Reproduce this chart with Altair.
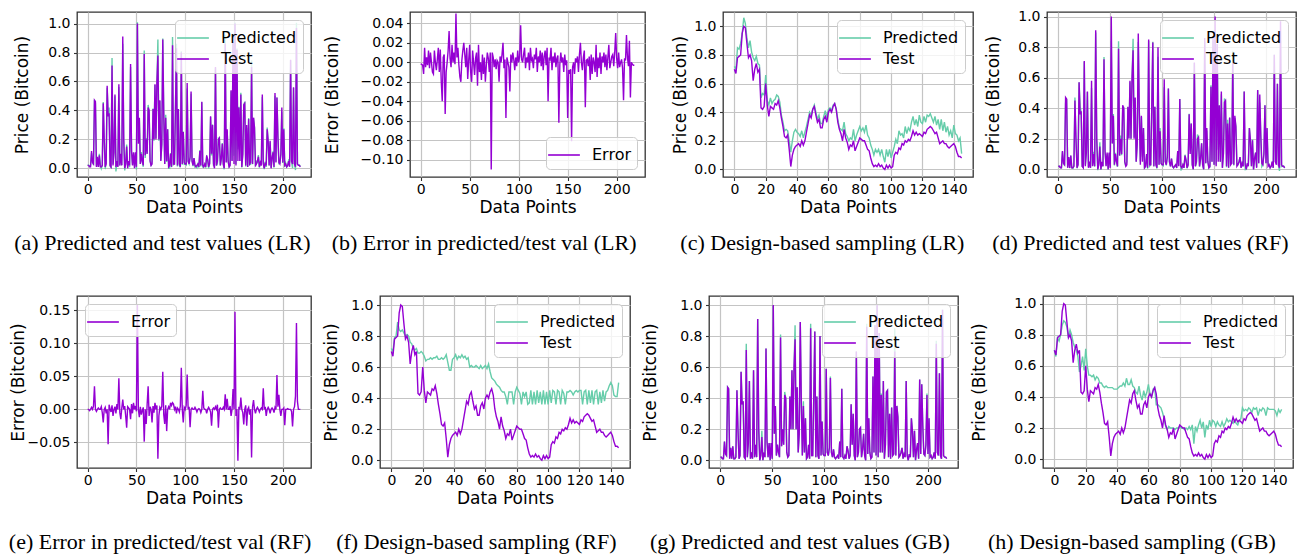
import altair as alt
import pandas as pd

# ---------------- data ----------------
# shuffled test set (219 points) used in panels (a), (d), (g)
TEST_SHUF = [
    0.02, 0.02, 0.01, 0.01, 0.12, 0.04, 0.03, 0.47, 0.46, 0.01,
    0.08, 0.01, 0.09, 0.01, 0.01, 0.02, 0.45, 0.20, 0.01, 0.03,
    0.57, 0.36, 0.38, 0.02, 0.01, 0.71, 0.02, 0.11, 0.51, 0.01,
    0.05, 0.01, 0.58, 0.02, 0.10, 0.02, 0.91, 0.20, 0.00, 0.03,
    0.15, 0.00, 0.05, 0.02, 0.72, 0.12, 0.02, 0.11, 0.00, 0.11,
    0.01, 1.00, 0.17, 0.35, 0.03, 0.10, 0.05, 0.02, 0.79, 0.09,
    0.20, 0.10, 0.42, 0.40, 0.05, 0.02, 0.03, 0.41, 0.20, 0.58,
    0.20, 0.60, 0.78, 0.20, 0.47, 0.05, 0.17, 0.89, 0.38, 0.03,
    0.35, 0.05, 0.27, 0.01, 0.02, 0.10, 0.01, 0.85, 0.03, 0.03,
    0.41, 0.83, 0.02, 0.41, 0.03, 0.01, 0.80, 0.03, 0.25, 0.04,
    0.03, 0.03, 0.59, 0.05, 0.03, 0.08, 0.53, 0.05, 0.02, 0.07,
    0.02, 0.01, 0.02, 0.03, 0.01, 0.12, 0.02, 0.46, 0.02, 0.01,
    0.03, 0.01, 0.09, 0.06, 0.01, 0.03, 0.36, 0.10, 0.30, 0.03,
    0.00, 0.70, 0.02, 0.05, 0.20, 0.21, 0.02, 0.07, 0.17, 0.03,
    0.00, 0.86, 0.04, 0.27, 0.05, 0.01, 0.02, 0.54, 0.05, 0.87,
    0.03, 1.00, 0.02, 0.82, 0.05, 0.42, 0.05, 0.51, 0.01, 0.10,
    0.44, 0.45, 0.02, 0.30, 0.01, 0.34, 0.03, 0.04, 0.70, 0.03,
    0.35, 0.28, 0.02, 0.03, 0.05, 0.08, 0.01, 0.04, 0.02, 0.51,
    0.03, 0.00, 0.04, 0.02, 0.27, 0.19, 0.02, 0.19, 0.00, 0.07,
    0.11, 0.01, 0.52, 0.04, 0.49, 0.22, 0.04, 0.03, 0.10, 0.42,
    0.04, 0.27, 0.02, 0.03, 0.01, 0.02, 0.05, 0.01, 0.75, 0.05,
    0.03, 0.56, 0.03, 0.01, 0.97, 0.03, 0.02, 0.02, 0.01,
]

# error (test - predicted), linear regression, panel (b)
ERR_LR = [
    -0.002, -0.002, -0.003, -0.012, 0.015, -0.005, 0.005, -0.003, 0.012, -0.006,
    0.010, 0.000, -0.010, -0.012, 0.012, 0.000, -0.008, 0.003, 0.015, -0.010,
    0.013, -0.020, -0.040, 0.005, 0.008, -0.053, -0.010, 0.000, 0.012, 0.032,
    0.004, -0.005, 0.018, 0.000, 0.010, -0.002, 0.050, 0.005, 0.015, -0.003,
    -0.015, -0.020, 0.002, 0.012, 0.020, 0.008, -0.005, 0.015, -0.017, 0.002,
    0.018, -0.010, -0.020, 0.012, 0.000, -0.013, 0.004, 0.010, -0.024, 0.018,
    -0.010, 0.000, -0.018, 0.008, -0.012, 0.005, -0.020, -0.003, 0.010, 0.004,
    -0.010, 0.010, -0.110, 0.010, 0.005, -0.005, 0.003, -0.007, 0.002, 0.000,
    -0.020, 0.006, 0.000, 0.008, 0.020, -0.006, 0.003, -0.057, 0.005, 0.000,
    -0.005, -0.030, 0.008, 0.000, 0.010, 0.003, -0.008, 0.005, -0.004, 0.012,
    0.000, 0.006, 0.038, 0.003, 0.000, 0.008, 0.015, -0.006, 0.005, 0.000,
    0.010, -0.008, 0.015, 0.002, 0.004, -0.006, 0.008, 0.003, 0.015, -0.010,
    0.006, 0.000, 0.012, -0.004, 0.010, -0.008, 0.006, 0.012, -0.003, 0.015,
    -0.040, 0.005, 0.003, 0.015, -0.008, 0.006, 0.000, 0.010, -0.005, 0.004,
    0.007, -0.062, -0.002, 0.010, 0.000, 0.005, -0.010, 0.008, -0.003, 0.002,
    -0.057, -0.008, -0.010, -0.007, -0.081, -0.005, 0.000, -0.012, 0.004, 0.000,
    0.006, -0.010, 0.008, 0.020, 0.000, -0.008, 0.005, 0.012, -0.046, 0.002,
    0.003, -0.004, 0.006, -0.018, 0.008, -0.012, 0.005, 0.000, -0.010, 0.018,
    -0.015, 0.005, -0.006, 0.010, -0.012, 0.006, 0.000, 0.010, -0.005, 0.008,
    -0.008, 0.005, 0.018, -0.006, 0.000, 0.006, 0.008, -0.004, 0.010, 0.030,
    0.004, -0.006, 0.010, -0.005, 0.000, 0.003, -0.006, -0.039, 0.004, 0.002,
    0.028, 0.005, -0.004, 0.022, -0.036, 0.000, -0.002, -0.003, -0.003,
]

# error (test - predicted), random forest, panel (e)
ERR_RF = [
    0.000, 0.000, -0.002, 0.000, 0.003, 0.000, 0.005, 0.035, 0.000, -0.003,
    0.000, 0.002, 0.000, 0.000, 0.004, -0.005, -0.020, 0.000, 0.003, -0.006,
    0.000, -0.053, 0.007, 0.000, -0.004, 0.006, -0.010, 0.000, 0.004, -0.006,
    0.008, 0.000, 0.047, -0.005, -0.015, 0.002, 0.015, 0.000, 0.005, -0.010,
    -0.028, 0.004, 0.002, 0.000, -0.015, 0.008, -0.006, 0.010, 0.000, 0.005,
    -0.003, 0.160, 0.000, -0.012, 0.004, -0.008, -0.002, 0.003, -0.049, 0.000,
    -0.022, 0.008, 0.035, -0.010, 0.004, 0.000, -0.020, 0.005, -0.005, 0.010,
    0.000, 0.006, -0.075, -0.010, 0.003, 0.000, 0.005, 0.057, -0.008, -0.022,
    0.006, -0.033, 0.000, 0.004, 0.000, 0.010, 0.006, 0.010, 0.008, 0.000,
    0.004, -0.006, 0.002, 0.000, -0.004, 0.005, 0.063, 0.000, -0.020, 0.003,
    0.000, 0.006, 0.053, 0.000, 0.004, -0.027, 0.000, 0.002, 0.000, 0.000,
    0.003, 0.000, -0.004, 0.000, 0.001, 0.000, -0.005, 0.000, 0.028, 0.002,
    0.000, 0.000, -0.006, 0.000, 0.003, 0.000, -0.004, -0.025, 0.000, 0.002,
    0.000, 0.004, 0.000, 0.007, -0.028, 0.000, 0.002, 0.000, 0.000, 0.003,
    0.000, 0.023, 0.000, 0.016, 0.000, 0.000, 0.005, -0.010, 0.000, 0.031,
    0.000, 0.148, -0.010, 0.000, -0.078, 0.004, 0.000, 0.018, 0.000, -0.005,
    -0.023, 0.000, 0.006, -0.025, 0.000, 0.003, -0.008, 0.000, -0.073, 0.004,
    0.014, 0.000, -0.006, 0.000, 0.003, 0.000, -0.004, 0.000, 0.002, 0.000,
    0.032, 0.000, 0.004, -0.010, 0.000, 0.003, 0.000, -0.006, 0.000, 0.002,
    0.000, -0.005, 0.003, 0.000, 0.052, 0.004, 0.022, 0.000, -0.010, 0.000,
    0.000, 0.002, -0.024, 0.000, 0.000, 0.001, 0.000, 0.000, 0.000, -0.003,
    -0.026, 0.000, 0.004, 0.020, 0.131, 0.012, 0.000, 0.000, 0.000,
]

# gradient boosting: points where the predicted tip shows above the test line
GB_TIP_IDX = [25, 40, 58, 62, 72, 80, 87, 106, 141, 155, 168, 199, 208]
GB_TIP_VAL = [0.75, 0.19, 0.81, 0.44, 0.87, 0.38, 0.88, 0.54, 0.88, 0.43, 0.85, 0.43, 0.77]

# chronological test set (146 points) used in panels (c), (f), (h)
TEST_TS = [
    0.70, 0.67, 0.78, 0.79, 0.80, 0.95, 1.00, 0.99, 0.88, 0.78,
    0.80, 0.76, 0.62, 0.70, 0.74, 0.68, 0.70, 0.43, 0.42, 0.44,
    0.60, 0.45, 0.37, 0.44, 0.43, 0.42, 0.46, 0.45, 0.48, 0.43,
    0.36, 0.30, 0.23, 0.22, 0.24, 0.14, 0.02, 0.10, 0.14, 0.16,
    0.17, 0.18, 0.16, 0.20, 0.17, 0.20, 0.26, 0.32, 0.38, 0.36,
    0.42, 0.44, 0.38, 0.33, 0.35, 0.29, 0.29, 0.35, 0.37, 0.33,
    0.40, 0.42, 0.40, 0.44, 0.46, 0.42, 0.33, 0.28, 0.25, 0.20,
    0.28, 0.22, 0.19, 0.14, 0.17, 0.16, 0.20, 0.13, 0.16, 0.19,
    0.22, 0.21, 0.20, 0.20, 0.17, 0.14, 0.13, 0.08, 0.04, 0.02,
    0.03, 0.02, 0.04, 0.02, 0.03, 0.01, 0.00, 0.03, 0.01, 0.03,
    0.01, 0.02, 0.10, 0.12, 0.11, 0.15, 0.14, 0.18, 0.17, 0.20,
    0.19, 0.21, 0.20, 0.23, 0.27, 0.24, 0.26, 0.24, 0.25, 0.24,
    0.23, 0.26, 0.25, 0.28, 0.29, 0.30, 0.29, 0.27, 0.25, 0.26,
    0.22, 0.18, 0.19, 0.20, 0.18, 0.18, 0.16, 0.15, 0.16, 0.17,
    0.18, 0.16, 0.12, 0.09, 0.09, 0.08,
]
PRED_LR_TS = [
    0.72, 0.70, 0.85, 0.84, 0.88, 0.95, 1.06, 1.02, 0.92, 0.85,
    0.90, 0.82, 0.78, 0.76, 0.79, 0.74, 0.73, 0.50, 0.53, 0.52,
    0.66, 0.48, 0.45, 0.50, 0.46, 0.48, 0.49, 0.52, 0.51, 0.47,
    0.38, 0.33, 0.27, 0.28, 0.27, 0.20, 0.12, 0.20, 0.26, 0.28,
    0.26, 0.25, 0.23, 0.27, 0.22, 0.26, 0.30, 0.35, 0.40, 0.38,
    0.42, 0.45, 0.40, 0.35, 0.38, 0.32, 0.32, 0.37, 0.41, 0.36,
    0.42, 0.43, 0.41, 0.45, 0.46, 0.42, 0.35, 0.29, 0.28, 0.27,
    0.33, 0.25, 0.23, 0.20, 0.22, 0.21, 0.28, 0.20, 0.24, 0.27,
    0.30, 0.27, 0.29, 0.26, 0.31, 0.24, 0.22, 0.17, 0.14, 0.10,
    0.14, 0.12, 0.14, 0.10, 0.14, 0.09, 0.05, 0.14, 0.09, 0.14,
    0.08, 0.12, 0.16, 0.21, 0.18, 0.27, 0.24, 0.25, 0.22, 0.30,
    0.25, 0.29, 0.27, 0.33, 0.37, 0.31, 0.35, 0.30, 0.38, 0.33,
    0.32, 0.37, 0.33, 0.38, 0.37, 0.39, 0.36, 0.33, 0.37, 0.31,
    0.35, 0.28, 0.35, 0.27, 0.33, 0.26, 0.30, 0.24, 0.27, 0.22,
    0.31, 0.25, 0.24, 0.20, 0.22, 0.11,
]
PRED_RF_TS = [
    0.72, 0.70, 0.79, 0.80, 0.89, 0.84, 0.83, 0.84, 0.82, 0.80,
    0.81, 0.80, 0.76, 0.75, 0.72, 0.71, 0.72, 0.69, 0.69, 0.70,
    0.69, 0.67, 0.64, 0.65, 0.65, 0.66, 0.65, 0.66, 0.66, 0.67,
    0.65, 0.65, 0.66, 0.65, 0.66, 0.68, 0.63, 0.58, 0.58, 0.65,
    0.66, 0.68, 0.65, 0.67, 0.66, 0.68, 0.66, 0.67, 0.65, 0.66,
    0.60, 0.61, 0.60, 0.60, 0.61, 0.60, 0.59, 0.61, 0.59, 0.60,
    0.61, 0.59, 0.62, 0.57, 0.53, 0.52, 0.51, 0.49, 0.48, 0.47,
    0.45, 0.44, 0.44, 0.41, 0.36, 0.44, 0.44, 0.44, 0.36, 0.44,
    0.47, 0.45, 0.43, 0.36, 0.44, 0.41, 0.44, 0.36, 0.37, 0.45,
    0.36, 0.44, 0.36, 0.45, 0.37, 0.44, 0.36, 0.45, 0.36, 0.44,
    0.36, 0.45, 0.37, 0.45, 0.44, 0.36, 0.45, 0.44, 0.36, 0.45,
    0.43, 0.36, 0.44, 0.44, 0.45, 0.44, 0.42, 0.44, 0.45, 0.44,
    0.45, 0.45, 0.36, 0.44, 0.45, 0.36, 0.45, 0.37, 0.45, 0.36,
    0.44, 0.45, 0.36, 0.44, 0.37, 0.45, 0.38, 0.44, 0.45, 0.48,
    0.50, 0.48, 0.42, 0.41, 0.41, 0.50,
]
PRED_GB_TS = [
    0.70, 0.66, 0.78, 0.76, 0.80, 0.86, 0.89, 0.88, 0.85, 0.78,
    0.83, 0.80, 0.75, 0.72, 0.70, 0.66, 0.56, 0.60, 0.66, 0.57,
    0.71, 0.60, 0.54, 0.54, 0.53, 0.54, 0.51, 0.53, 0.52, 0.49,
    0.49, 0.47, 0.46, 0.47, 0.46, 0.46, 0.46, 0.46, 0.45, 0.45,
    0.45, 0.46, 0.47, 0.47, 0.49, 0.47, 0.52, 0.48, 0.48, 0.51,
    0.47, 0.46, 0.43, 0.42, 0.47, 0.41, 0.38, 0.44, 0.40, 0.43,
    0.48, 0.42, 0.40, 0.45, 0.46, 0.35, 0.35, 0.34, 0.33, 0.30,
    0.26, 0.21, 0.19, 0.21, 0.20, 0.20, 0.20, 0.19, 0.20, 0.20,
    0.21, 0.20, 0.20, 0.19, 0.20, 0.19, 0.21, 0.19, 0.22, 0.10,
    0.21, 0.18, 0.22, 0.25, 0.20, 0.24, 0.14, 0.22, 0.19, 0.25,
    0.21, 0.25, 0.24, 0.21, 0.24, 0.22, 0.21, 0.24, 0.21, 0.23,
    0.26, 0.24, 0.25, 0.24, 0.23, 0.25, 0.23, 0.22, 0.25, 0.26,
    0.33, 0.31, 0.32, 0.31, 0.33, 0.32, 0.30, 0.33, 0.32, 0.33,
    0.28, 0.32, 0.31, 0.33, 0.32, 0.28, 0.33, 0.32, 0.32, 0.32,
    0.32, 0.31, 0.28, 0.32, 0.30, 0.32,
]

CAPTIONS = [
    "(a) Predicted and test values (LR)",
    "(b) Error in predicted/test val (LR)",
    "(c) Design-based sampling (LR)",
    "(d) Predicted and test values (RF)",
    "(e) Error in predicted/test val (RF)",
    "(f) Design-based sampling (RF)",
    "(g) Predicted and test values (GB)",
    "(h) Design-based sampling (GB)",
]

C_PRED = "#66CDAA"
C_TEST = "#9400D3"

# predicted values of the shuffled panels: test minus the plotted error
PRED_LR_SHUF = [t - e for t, e in zip(TEST_SHUF, ERR_LR)]
PRED_RF_SHUF = [t - e for t, e in zip(TEST_SHUF, ERR_RF)]
PRED_GB_SHUF = list(TEST_SHUF)
for i, v in zip(GB_TIP_IDX, GB_TIP_VAL):
    PRED_GB_SHUF[i] = v

FONT = "DejaVu Sans"
SHUF_X = dict(dom=[-10.9, 228.9], ticks=[0, 50, 100, 150, 200])
TS_X = dict(dom=[-7.25, 152.25], ticks=[0, 20, 40, 60, 80, 100, 120, 140])
PRICE_TICKS = [0.0, 0.2, 0.4, 0.6, 0.8, 1.0]


def panel(series, colors, xcfg, ydom, yticks, yfmt, ytitle, w, h,
          lorient, caption, ypad, cap_off):
    names = list(series.keys())
    rows = []
    for name in names:
        for i, v in enumerate(series[name]):
            rows.append({"x": i, "v": v, "s": name})
    df = pd.DataFrame(rows)
    color = alt.Color(
        "s:N",
        scale=alt.Scale(domain=names, range=colors),
        legend=alt.Legend(
            title=None, orient=lorient, offset=8, padding=6,
            fillColor="rgba(255,255,255,0.8)", strokeColor="#cccccc",
            cornerRadius=4, symbolType="M-1.45,0H1.45", symbolSize=480,
            symbolStrokeWidth=1.6, labelFont=FONT, labelFontSize=16,
            labelColor="black", labelOffset=16, rowPadding=1,
        ),
    )
    x = alt.X(
        "x:Q",
        scale=alt.Scale(domain=xcfg["dom"], nice=False, zero=False),
        axis=alt.Axis(values=xcfg["ticks"], format="d", title="Data Points",
                      titlePadding=3, labelPadding=2),
    )
    y = alt.Y(
        "v:Q",
        scale=alt.Scale(domain=ydom, nice=False, zero=False),
        axis=alt.Axis(values=yticks, format=yfmt, title=ytitle,
                      titlePadding=ypad),
    )
    layers = []
    for name in names:
        layers.append(
            alt.Chart(df)
            .transform_filter(alt.datum.s == name)
            .mark_line(strokeWidth=1.4, clip=True)
            .encode(x=x, y=y, color=color)
        )
    return alt.layer(*layers).properties(
        width=w, height=h,
        title=alt.TitleParams(
            caption, orient="bottom", anchor="middle", frame="bounds",
            font="Liberation Serif", fontSize=22, fontWeight="normal",
            color="black", offset=cap_off,
        ),
    )


H1 = 165
H2 = 172

pa = panel({"Predicted": PRED_LR_SHUF, "Test": TEST_SHUF}, [C_PRED, C_TEST],
           SHUF_X, [-0.06, 1.08], PRICE_TICKS, ".1f", "Price (Bitcoin)",
           234, H1, "top-right", CAPTIONS[0], 16, 17)
pb = panel({"Error": ERR_LR}, [C_TEST], SHUF_X, [-0.1176, 0.0516],
           [-0.10, -0.08, -0.06, -0.04, -0.02, 0.0, 0.02, 0.04], ".2f",
           "Error (Bitcoin)", 235, H1, "bottom-right", CAPTIONS[1], 19, 17)
pc = panel({"Predicted": PRED_LR_TS, "Test": TEST_TS}, [C_PRED, C_TEST],
           TS_X, [-0.053, 1.10], PRICE_TICKS, ".1f", "Price (Bitcoin)",
           250, H1, "top-right", CAPTIONS[2], 4, 17)
pd_ = panel({"Predicted": PRED_RF_SHUF, "Test": TEST_SHUF}, [C_PRED, C_TEST],
            SHUF_X, [-0.05, 1.03], PRICE_TICKS, ".1f", "Price (Bitcoin)",
            249, H1, "top-right", CAPTIONS[3], 15, 17)
pe = panel({"Error": ERR_RF}, [C_TEST], SHUF_X, [-0.089, 0.172],
           [-0.05, 0.0, 0.05, 0.10, 0.15], ".2f", "Error (Bitcoin)",
           234, H2, "top-left", CAPTIONS[4], 0, 25)
pf = panel({"Predicted": PRED_RF_TS, "Test": TEST_TS}, [C_PRED, C_TEST],
           TS_X, [-0.05, 1.058], PRICE_TICKS, ".1f", "Price (Bitcoin)",
           250, H2, "top-right", CAPTIONS[5], 10, 25)
pg = panel({"Predicted": PRED_GB_SHUF, "Test": TEST_SHUF}, [C_PRED, C_TEST],
           SHUF_X, [-0.05, 1.058], PRICE_TICKS, ".1f", "Price (Bitcoin)",
           249, H2, "top-right", CAPTIONS[6], 20, 25)
ph = panel({"Predicted": PRED_GB_TS, "Test": TEST_TS}, [C_PRED, C_TEST],
           TS_X, [-0.057, 1.049], PRICE_TICKS, ".1f", "Price (Bitcoin)",
           250, H2, "top-right", CAPTIONS[7], 25, 25)

chart = (
    alt.concat(pa, pb, pc, pd_, pe, pf, pg, ph, columns=4,
               spacing={"row": 40, "column": 10})
    .resolve_scale(color="independent", x="independent", y="independent")
    .properties(padding=0, background="white",
                align={"row": "each", "column": "none"})
    .configure_view(stroke="#333333", strokeWidth=1.3)
    .configure_axis(
        domain=False, grid=True, gridColor="#c4c4c4", gridWidth=1.2,
        tickColor="#333333", tickSize=3.5, tickWidth=1.1,
        labelFont=FONT, labelFontSize=14, labelColor="black", labelPadding=3.5,
        titleFont=FONT, titleFontSize=17, titleFontWeight="normal",
        titleColor="black",
    )
)

chart.save("out.html", embed_options={"renderer": "svg", "actions": False})
